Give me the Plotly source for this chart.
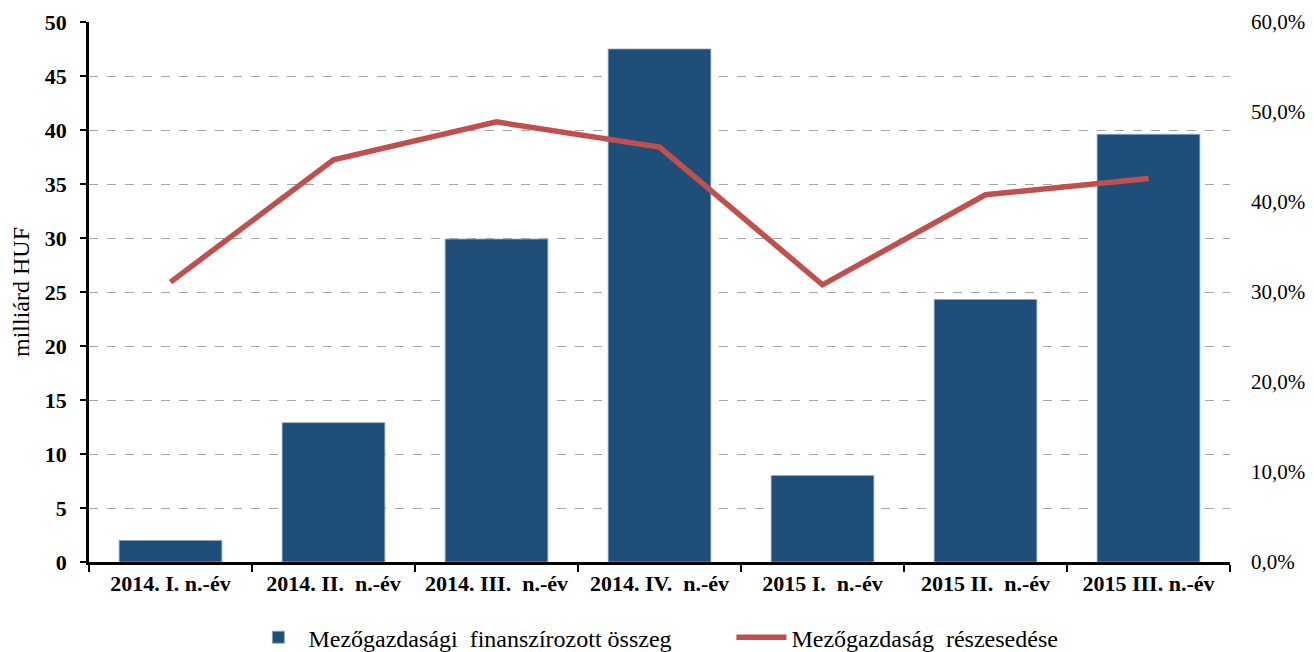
import plotly.graph_objects as go

categories = ["2014. I. n.-év", "2014. II.  n.-év", "2014. III.  n.-év", "2014. IV.  n.-év",
              "2015 I.  n.-év", "2015 II.  n.-év", "2015 III. n.-év"]
amounts = [2.0, 12.9, 29.9, 47.5, 8.0, 24.3, 39.6]
shares = [0.311, 0.447, 0.489, 0.461, 0.308, 0.408, 0.426]

bar_name = "Mezőgazdasági  finanszírozott összeg"
line_name = "Mezőgazdaság  részesedése"

serif = "Liberation Serif, Times New Roman, serif"

fig = go.Figure()
fig.add_trace(go.Bar(
    x=categories, y=amounts, name=bar_name,
    marker=dict(color="#1F4E79", line=dict(color="#8FA6BF", width=0.8)),
    width=0.63,
))
fig.add_trace(go.Scatter(
    x=categories, y=shares, name=line_name, yaxis="y2",
    mode="lines", line=dict(color="#C0504D", width=5.5),
))

fig.update_layout(
    width=1306, height=644,
    margin=dict(l=81, r=84, t=14, b=90, autoexpand=False),
    paper_bgcolor="white", plot_bgcolor="white",
    separators=",.",
    font=dict(family=serif, color="black", size=20),
    showlegend=True,
    legend=dict(orientation="h", x=0.563, xanchor="center", y=-0.14, yanchor="middle",
                font=dict(family=serif, size=24), entrywidth=418, itemwidth=50,
                traceorder="normal"),
    xaxis=dict(
        type="category",
        showline=True, linecolor="black", linewidth=2.5,
        ticks="outside", tickson="boundaries", ticklen=7, tickwidth=2, tickcolor="black",
        tickfont=dict(family=serif, size=22, color="black", weight="bold"),
        showgrid=False, automargin=False,
        range=[-0.5, 6.5],
    ),
    yaxis=dict(
        range=[0, 50], dtick=5,
        showline=True, linecolor="black", linewidth=2.5,
        ticks="outside", ticklen=6, tickwidth=2, tickcolor="black",
        tickfont=dict(family=serif, size=22, color="black", weight="bold"),
        ticklabelstandoff=9,
        showgrid=True, gridcolor="#A6A6A6", griddash="dash", gridwidth=1,
        zeroline=False, automargin=False,
        title=dict(text="milliárd HUF", font=dict(family=serif, size=24, color="black"), standoff=26),
    ),
    yaxis2=dict(
        range=[0, 0.6], dtick=0.1, tickformat=".1%",
        overlaying="y", side="right",
        showgrid=False, showline=False, zeroline=False, ticks="",
        ticklabelstandoff=20, automargin=False,
        tickfont=dict(family=serif, size=21, color="black"),
    ),
)

fig.write_html("out.html")
